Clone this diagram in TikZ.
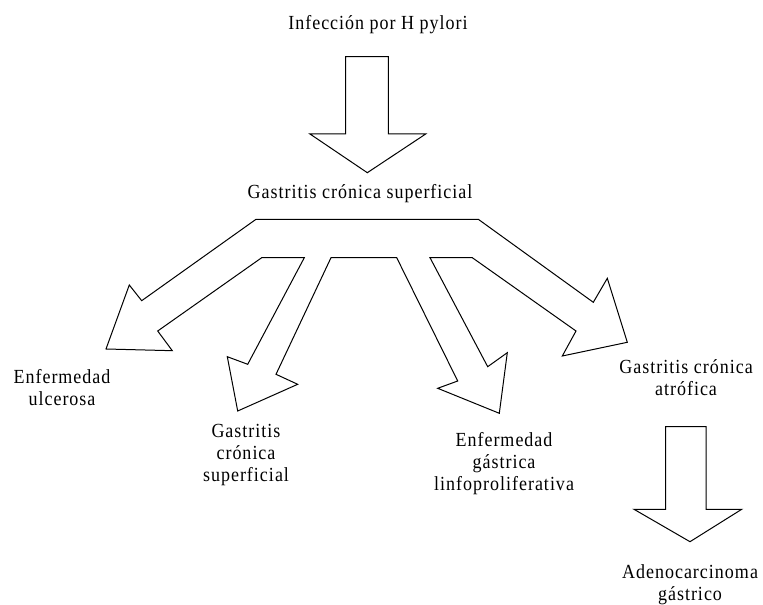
\documentclass[tikz,border=0pt]{standalone}
\usepackage{fontspec}
\setmainfont{Liberation Serif}
\newfontfamily\lblfont[FakeStretch=0.9,LetterSpace=5]{Liberation Serif}

\tikzset{
  blockarrow/.style={draw=black, line width=0.75, line join=miter, fill=white},
  lbl/.style={inner sep=0pt, align=center, font=\lblfont\fontsize{15}{16.5}\selectfont}
}

\begin{document}
\begin{tikzpicture}[x=0.75pt,y=0.75pt,yscale=-1,xscale=1]
\useasboundingbox (0,0) rectangle (763,605);

% top arrow
\draw [blockarrow] (345.7,56.7) -- (388.3,56.7) -- (388.3,134) -- (425.7,134) -- (367.3,172.7) -- (310,134) -- (345.7,134) -- cycle ;

% fork with four arrows
\draw [blockarrow] (256,219.3) -- (478.3,219.3) -- (593.3,302.3) -- (607.3,278.3) -- (627.3,342.3) -- (562.3,356) -- (576,331) -- (472.3,257.7) -- (430,257.7) -- (487.7,366.7) -- (507.3,352.7) -- (499.3,413.3) -- (437.7,388.3) -- (457.7,381) -- (396.7,257.7) -- (331,257.7) -- (276,374.3) -- (297.7,384.3) -- (237.7,411) -- (227.3,356.7) -- (247.7,364.3) -- (304.3,257.7) -- (261.7,257.7) -- (157.7,331) -- (172.3,350.7) -- (106,349) -- (129.3,285) -- (141.7,300.7) -- cycle ;

% bottom right arrow
\draw [blockarrow] (665.7,426.7) -- (706,426.7) -- (706,509.3) -- (741.7,509.3) -- (690,541.7) -- (634,509.3) -- (665.7,509.3) -- cycle ;

\node [lbl, anchor=base] (infeccion) at (378,29.3) {Infección por H pylori};
\node [lbl, anchor=base] (gcsup) at (360,198.3) {Gastritis crónica superficial};

\node [lbl] (ulcera) at (62,387.7) {Enfermedad\\ulcerosa};
\node [lbl] (gcsupb) at (246,454.7) {Gastritis\\crónica\\superficial};
\node [lbl] (linfo) at (504,463.7) {Enfermedad\\gástrica\\linfoproliferativa};
\node [lbl] (atrofica) at (686,377.7) {Gastritis crónica\\atrófica};
\node [lbl] (adeno) at (690,585) {Adenocarcinoma\\gástrico};

\end{tikzpicture}
\end{document}
